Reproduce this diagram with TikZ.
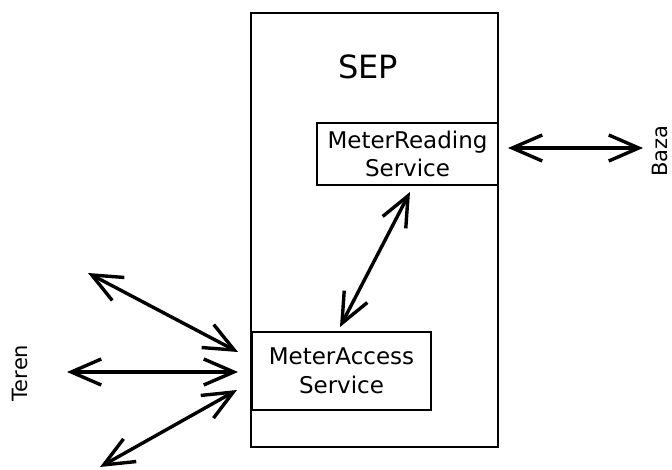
\documentclass[tikz,border=0pt]{standalone}
\usepackage{fontspec}
\setmainfont{DejaVu Sans}
\usetikzlibrary{arrows.meta}
\begin{document}
\begin{tikzpicture}[x=1pt,y=-1pt,
  frame/.style={draw=black,line width=2.4pt,inner sep=0pt},
  svcbox/.style={frame,fill=white,align=center,
    font=\fontsize{23pt}{28.5pt}\selectfont},
  link/.style={line width=3.4pt,line cap=round,
    {Straight Barb[length=30pt,width=26pt,line width=3.4pt]}-{Straight Barb[length=30pt,width=26pt,line width=3.4pt]}},
  sidelabel/.style={rotate=90,font=\fontsize{21pt}{25pt}\selectfont}]
  \useasboundingbox (0,0) rectangle (672,470);
  % system boundary
  \node[frame,minimum width=247pt,minimum height=434pt] (sep) at (374.5,230) {};
  \node[font=\fontsize{32pt}{36pt}\selectfont] (septitle) at (368,67) {SEP};
  % services
  \node[svcbox,minimum width=181pt,minimum height=62pt] (reading) at (407.5,154) {MeterReading\\Service};
  \node[svcbox,minimum width=179pt,minimum height=78pt] (access) at (341.5,371) {MeterAccess\\Service};
  % external parties
  \node[sidelabel] (baza) at (660,151) {Baza};
  \node[sidelabel] (teren) at (20,373) {Teren};
  % connector end points
  \coordinate (bazaR) at (643,148);
  \coordinate (bazaL) at (508,148);
  \coordinate (rdLow) at (410,192);
  \coordinate (acHigh) at (340,327);
  \coordinate (tUpOut) at (88,273);
  \coordinate (tUpIn) at (238,352);
  \coordinate (tMidOut) at (67,372);
  \coordinate (tMidIn) at (238,372);
  \coordinate (tLowOut) at (100,467);
  \coordinate (tLowIn) at (237,390);
  % connectors
  \draw[link] (bazaL) -- (bazaR);
  \draw[link] (rdLow) -- (acHigh);
  \draw[link] (tUpOut) -- (tUpIn);
  \draw[link] (tMidOut) -- (tMidIn);
  \draw[link] (tLowOut) -- (tLowIn);
\end{tikzpicture}
\end{document}
